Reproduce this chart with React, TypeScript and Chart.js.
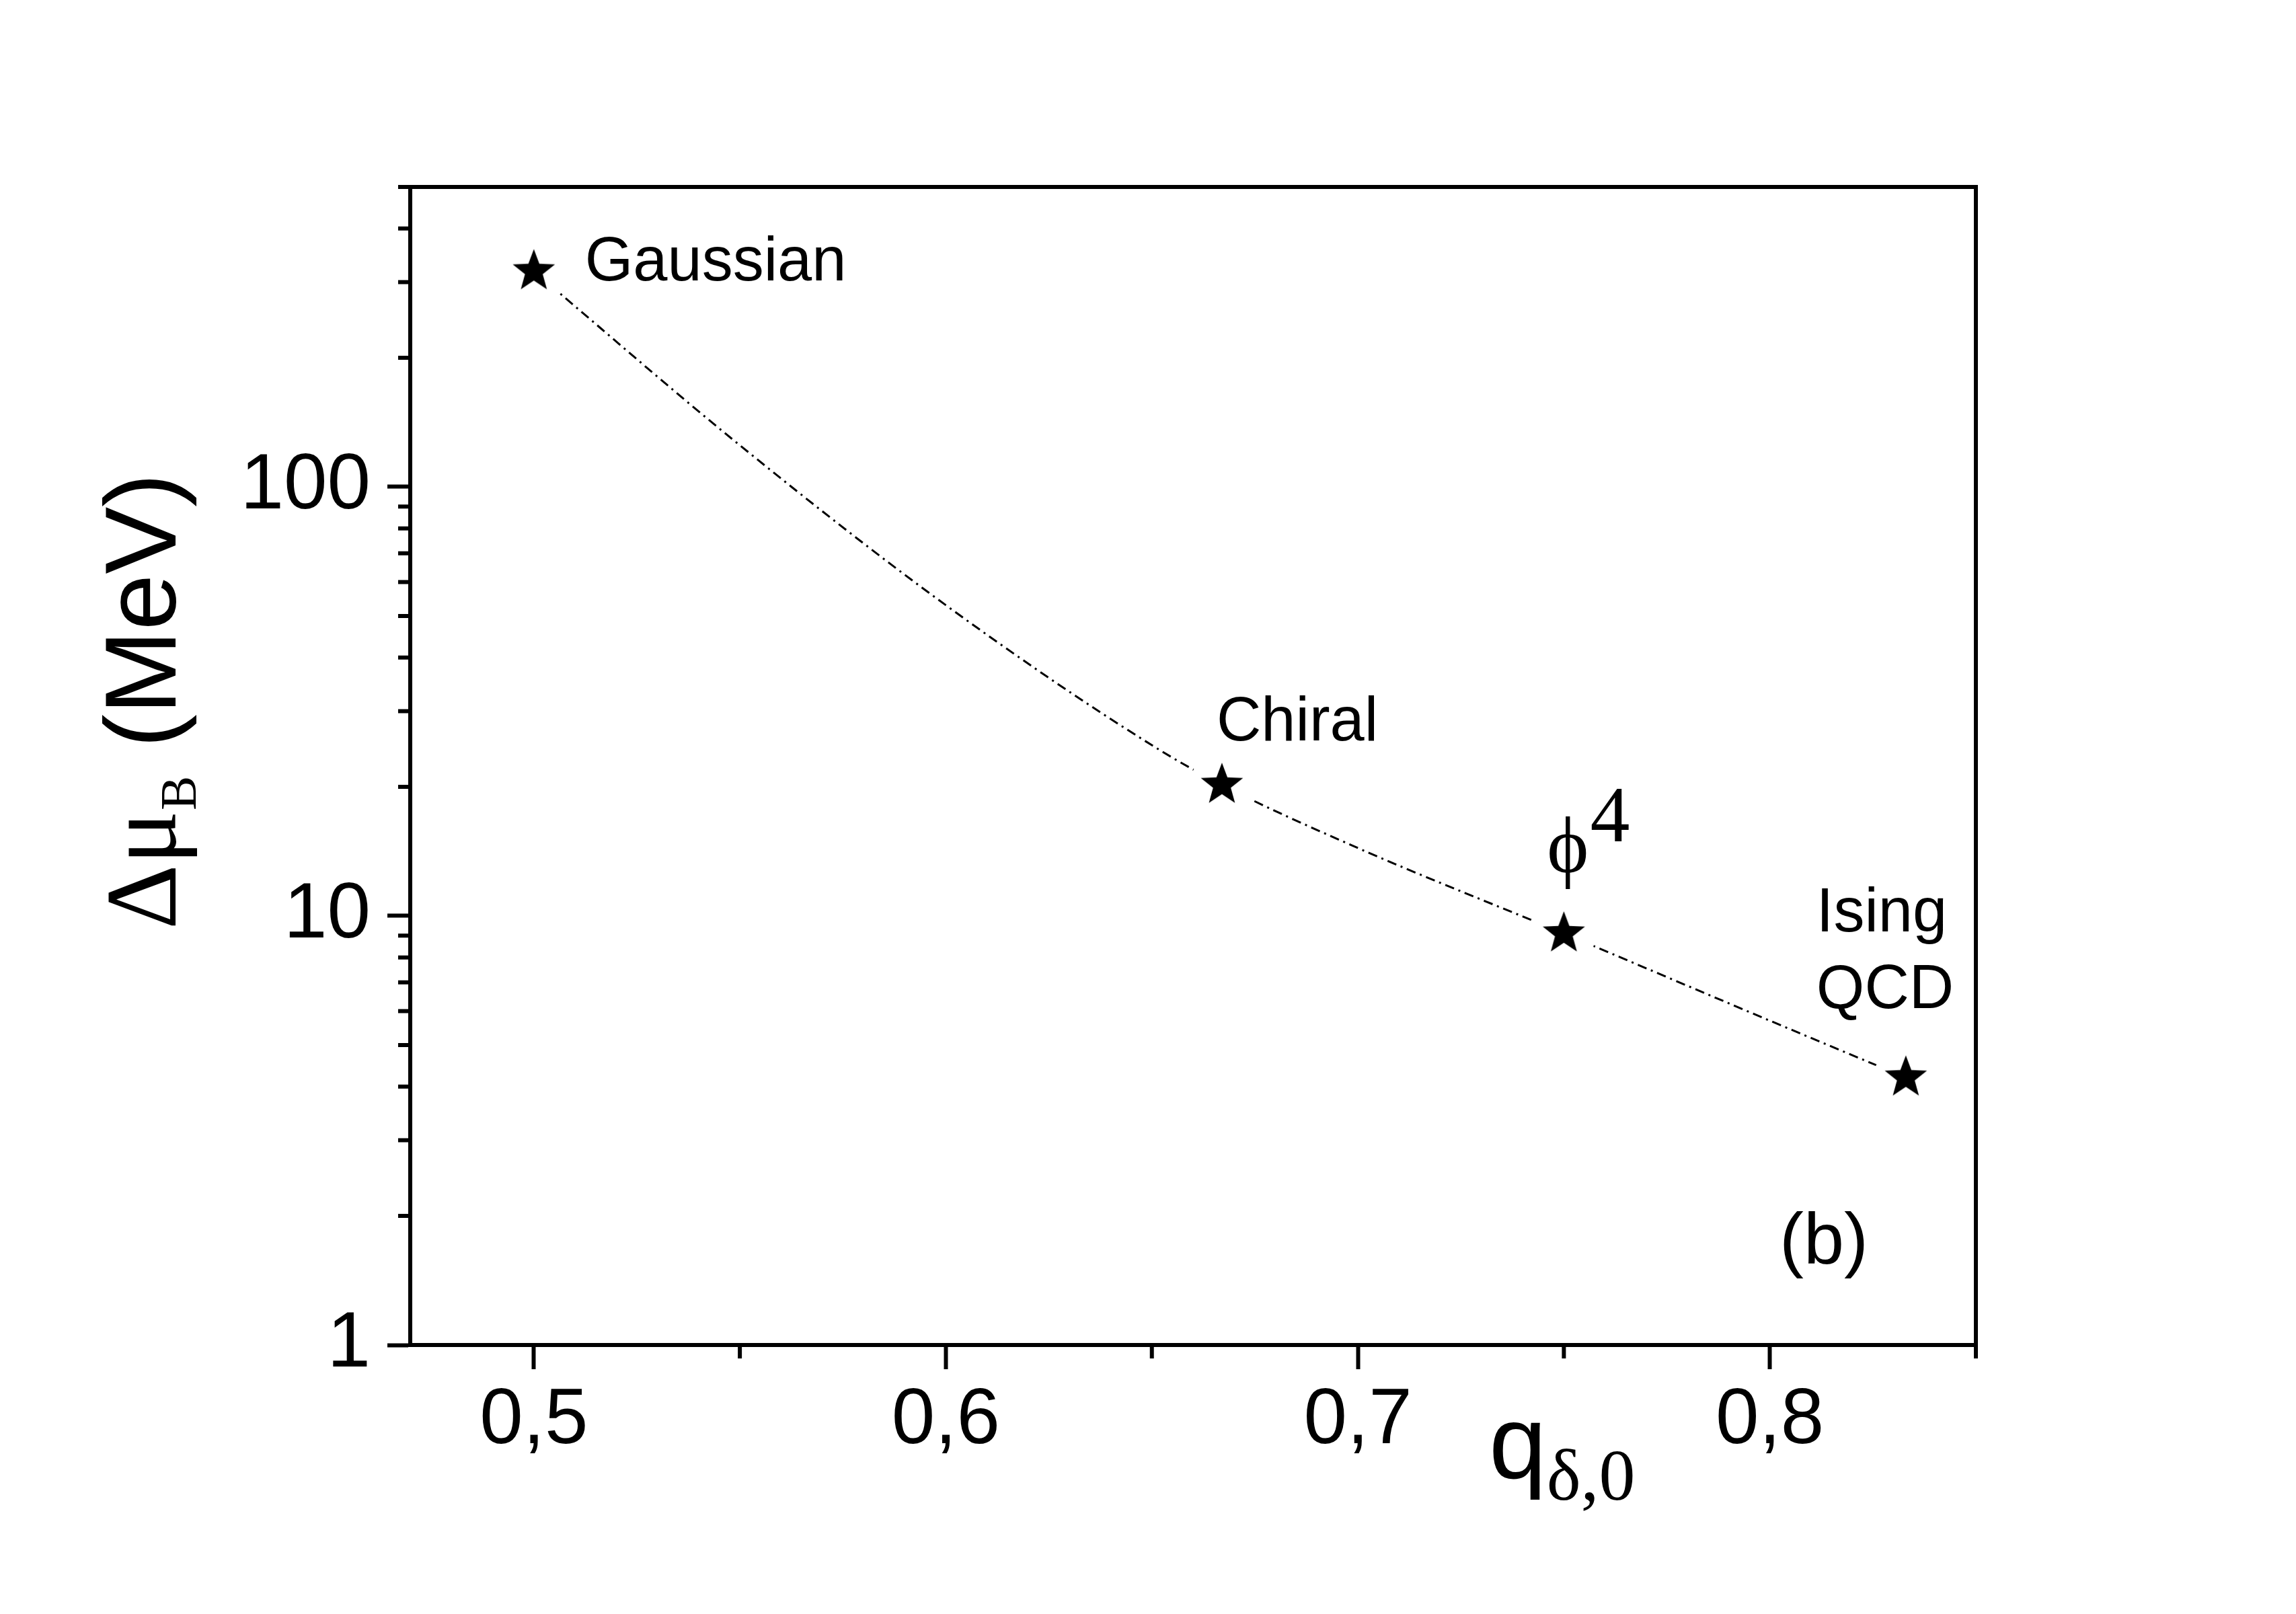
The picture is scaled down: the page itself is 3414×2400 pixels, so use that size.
import { useEffect, useRef } from "react"
import { Chart, registerables, type Plugin } from "chart.js"

Chart.register(...registerables)

const W = 3414
const H = 2400

// model points (stars)
const modelQ = [0.5, 0.667, 0.75, 0.833]
const modelDeltaMu = [318, 20.2, 9.1, 4.2]

// dash-dot curve
const curveQ = [0.5, 0.55, 0.6, 0.65, 0.667, 0.7, 0.75, 0.8, 0.833]
const curveDeltaMu = [318, 125, 53, 25, 20.2, 14.4, 9.1, 5.7, 4.2]

// axis ticks
const xMajorTicks = [0.5, 0.6, 0.7, 0.8]
const xMinorTicks = [0.55, 0.65, 0.75, 0.85]
const yMajorTicks = [1, 10, 100]
const yMinorTicks = [2, 3, 4, 5, 6, 7, 8, 9, 20, 30, 40, 50, 60, 70, 80, 90, 200, 300, 400, 500]

const SANS = '"Liberation Sans", Arial, sans-serif'
const SERIF = '"Liberation Serif", "Times New Roman", serif'
const AXIS_W = 6

function makeStar(): HTMLCanvasElement {
  const c = document.createElement("canvas")
  c.width = 100
  c.height = 100
  const g = c.getContext("2d")!
  // white halo so the curve stops short of the symbol
  g.fillStyle = "#fff"
  g.beginPath()
  g.arc(50, 50, 48, 0, Math.PI * 2)
  g.fill()
  const R = 33
  const r = R * 0.42
  g.fillStyle = "#000"
  g.beginPath()
  for (let i = 0; i < 10; i++) {
    const rad = i % 2 === 0 ? R : r
    const a = -Math.PI / 2 + (i * Math.PI) / 5
    const px = 50 + rad * Math.cos(a)
    const py = 50 + rad * Math.sin(a)
    if (i === 0) g.moveTo(px, py)
    else g.lineTo(px, py)
  }
  g.closePath()
  g.fill()
  return c
}

const decorations: Plugin<"line"> = {
  id: "decorations",
  afterDraw(chart) {
    const { ctx, chartArea } = chart
    const xs = chart.scales.x
    const ys = chart.scales.y
    ctx.save()
    ctx.strokeStyle = "#000"
    ctx.fillStyle = "#000"
    ctx.lineWidth = AXIS_W

    // top and right frame
    ctx.beginPath()
    ctx.moveTo(chartArea.left - AXIS_W / 2, chartArea.top)
    ctx.lineTo(chartArea.right + AXIS_W / 2, chartArea.top)
    ctx.moveTo(chartArea.right, chartArea.top)
    ctx.lineTo(chartArea.right, chartArea.bottom + AXIS_W / 2)
    ctx.stroke()

    // minor ticks
    ctx.beginPath()
    xMinorTicks.forEach((v) => {
      const px = xs.getPixelForValue(v)
      ctx.moveTo(px, chartArea.bottom)
      ctx.lineTo(px, chartArea.bottom + 20)
    })
    yMinorTicks.forEach((v) => {
      const py = ys.getPixelForValue(v)
      ctx.moveTo(chartArea.left, py)
      ctx.lineTo(chartArea.left - 18, py)
    })
    ctx.stroke()

    ctx.textAlign = "left"
    ctx.textBaseline = "alphabetic"

    // point labels, placed from the star positions
    const sx = (i: number) => xs.getPixelForValue(modelQ[i])
    const sy = (i: number) => ys.getPixelForValue(modelDeltaMu[i])
    ctx.font = `92px ${SANS}`
    ctx.fillText("Gaussian", sx(0) + 76, sy(0) + 14)
    ctx.fillText("Chiral", sx(1) - 8, sy(1) - 66)
    ctx.fillText("Ising", sx(3) - 133, sy(3) - 217)
    ctx.fillText("QCD", sx(3) - 133, sy(3) - 103)

    ctx.font = `118px ${SERIF}`
    const phiX = sx(2) - 25
    const phiY = sy(2) - 91
    ctx.fillText("ϕ", phiX, phiY)
    ctx.fillText("4", phiX + ctx.measureText("ϕ").width + 2, phiY - 46)

    ctx.font = `108px ${SANS}`
    ctx.fillText("(b)", chartArea.right - 292, chartArea.bottom - 121)

    // x title q_δ,0
    const qx = chartArea.right - 724
    const qy = chartArea.bottom + 198
    ctx.font = `154px ${SANS}`
    ctx.fillText("q", qx, qy)
    const qw = ctx.measureText("q").width
    ctx.font = `108px ${SERIF}`
    ctx.fillText("δ,0", qx + qw, qy + 32)

    // y title Δμ_B (MeV)
    ctx.translate(chartArea.left - 349, chartArea.top + 1104)
    ctx.rotate(-Math.PI / 2)
    let tx = 0
    ctx.font = `150px ${SERIF}`
    ctx.fillText("Δμ", tx, 0)
    tx += ctx.measureText("Δμ").width
    ctx.font = `77px ${SERIF}`
    ctx.fillText("B", tx, 30)
    tx += ctx.measureText("B").width
    ctx.font = `150px ${SANS}`
    ctx.fillText(" (MeV)", tx, 0)

    ctx.restore()
  },
}

export default function App() {
  const canvasRef = useRef<HTMLCanvasElement>(null)
  const chartInstance = useRef<Chart<"line"> | null>(null)

  useEffect(() => {
    document.body.style.margin = "0"
    if (!canvasRef.current) return
    const ctx = canvasRef.current.getContext("2d")
    if (!ctx) return
    if (chartInstance.current) chartInstance.current.destroy()

    const star = makeStar()
    const tickFont = { family: SANS, size: 116 }

    chartInstance.current = new Chart(ctx, {
      type: "line",
      data: {
        datasets: [
          {
            label: "models",
            data: modelQ.map((q, i) => ({ x: q, y: modelDeltaMu[i] })),
            showLine: false,
            pointStyle: star,
            pointRadius: 35,
            order: 0,
          },
          {
            label: "curve",
            data: curveQ.map((q, i) => ({ x: q, y: curveDeltaMu[i] })),
            borderColor: "#000",
            borderWidth: 3,
            borderDash: [14, 7, 3, 7],
            pointRadius: 0,
            cubicInterpolationMode: "monotone",
            fill: false,
            order: 1,
          },
        ],
      },
      options: {
        animation: false,
        responsive: false,
        devicePixelRatio: 1,
        layout: { padding: { top: 278, right: 476, left: 0, bottom: 0 } },
        plugins: {
          legend: { display: false },
          tooltip: { enabled: false },
        },
        scales: {
          x: {
            type: "linear",
            min: 0.47,
            max: 0.85,
            afterBuildTicks: (s) => {
              s.ticks = xMajorTicks.map((v) => ({ value: v }))
            },
            afterFit: (s) => {
              s.height = 400
            },
            ticks: {
              callback: (v) => String(v).replace(".", ","),
              font: tickFont,
              color: "#000",
              padding: 8,
              maxRotation: 0,
              autoSkip: false,
            },
            grid: {
              drawOnChartArea: false,
              drawTicks: true,
              tickLength: 36,
              tickWidth: AXIS_W,
              tickColor: "#000",
            },
            border: { display: true, color: "#000", width: AXIS_W },
          },
          y: {
            type: "logarithmic",
            min: 1,
            max: 500,
            afterBuildTicks: (s) => {
              s.ticks = yMajorTicks.map((v) => ({ value: v }))
            },
            afterFit: (s) => {
              s.width = 610
            },
            ticks: {
              callback: (v) => String(v),
              font: tickFont,
              color: "#000",
              padding: 25,
              autoSkip: false,
            },
            grid: {
              drawOnChartArea: false,
              drawTicks: true,
              tickLength: 34,
              tickWidth: AXIS_W,
              tickColor: "#000",
            },
            border: { display: true, color: "#000", width: AXIS_W },
          },
        },
      },
      plugins: [decorations],
    })

    return () => {
      if (chartInstance.current) {
        chartInstance.current.destroy()
        chartInstance.current = null
      }
    }
  }, [])

  return (
    <div style={{ width: W, height: H, background: "#fff" }}>
      <canvas ref={canvasRef} width={W} height={H} style={{ display: "block" }} />
    </div>
  )
}
